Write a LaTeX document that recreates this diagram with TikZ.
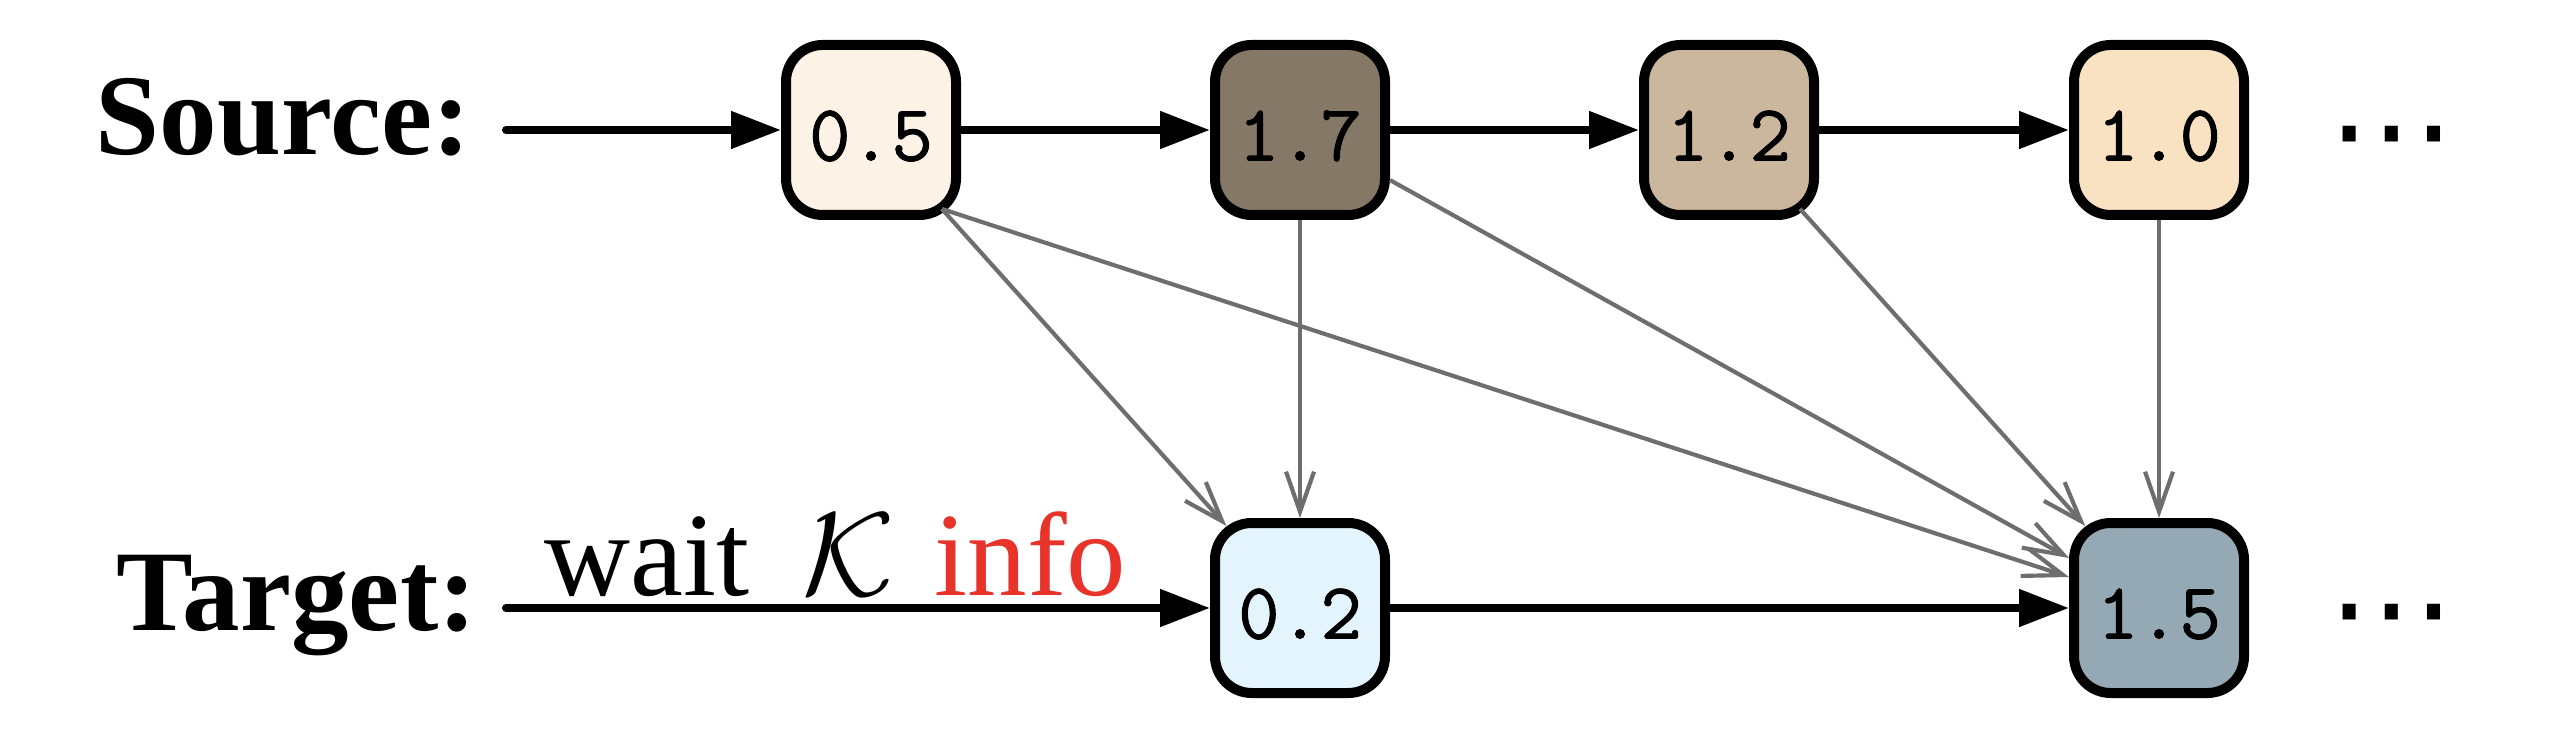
\RequirePackage{fix-cm}
\documentclass[tikz,border=0pt]{standalone}
\usepackage{fontspec}
\setmainfont{Liberation Serif}
\newfontfamily\dejavu{DejaVu Sans}
\newfontfamily\digitfont{Latin Modern Mono}[FakeBold=1.2]
\usetikzlibrary{arrows.meta,calc}
\definecolor{cA}{HTML}{FCF2E6}
\definecolor{cB}{HTML}{857866}
\definecolor{cC}{HTML}{CBB79D}
\definecolor{cD}{HTML}{F9E2C2}
\definecolor{cE}{HTML}{E3F4FC}
\definecolor{cF}{HTML}{95A9B4}
\definecolor{infored}{HTML}{E8332A}
\definecolor{depgray}{HTML}{6E6E6E}
\begin{document}
\begin{tikzpicture}[x=0.3pt,y=-0.3pt,
  valbox/.style={draw=black, line width=3pt, rounded corners=11pt,
    minimum width=51pt, minimum height=51pt, inner sep=0pt, outer sep=1.5pt,
    font=\fontsize{24}{28}\selectfont\digitfont, text height=18.3pt, text depth=0pt},
  flow/.style={line width=2.4pt, line cap=round, -{Triangle[length=15pt,width=10.8pt]}},
  dep/.style={draw=depgray, line width=1.25pt, -{Straight Barb[length=12pt,width=8.4pt]}},
  cornerdep/.style={dep, shorten <=-4.5pt, shorten >=-3.2pt},
  rowlabel/.style={font=\fontsize{34.5}{40}\selectfont\bfseries, inner sep=0pt, anchor=base west},
  dotsnode/.style={font=\fontsize{38}{44}\selectfont\dejavu, inner sep=0pt}]
\useasboundingbox (0,0) rectangle (2564,732);

% labels
\node[rowlabel] (srclab) at (95,155) {Source:};
\node[rowlabel] (tgtlab) at (116,630) {Target:};

% boxes
\node[valbox, fill=cA] (s1) at (871,130) {0.5};
\node[valbox, fill=cB] (s2) at (1300,130) {1.7};
\node[valbox, fill=cC] (s3) at (1729,130) {1.2};
\node[valbox, fill=cD] (s4) at (2159,130) {1.0};
\node[valbox, fill=cE] (t1) at (1300,608) {0.2};
\node[valbox, fill=cF] (t2) at (2159,608) {1.5};

% continuation dots
\node[dotsnode] (sdots) at (2392,150) {⋯};
\node[dotsnode] (tdots) at (2392,628) {⋯};

% start points of the rows
\coordinate (s0) at (506,130);
\coordinate (t0) at (506,608);

% wait label
\node[font=\fontsize{35.7}{42}\selectfont, inner sep=0pt, anchor=base west] (waitlab) at (544,595)
  {wait\hspace{7pt} $\mathcal{K}$\hspace{3pt} \textcolor{infored}{info}};

% dependency arrows
\draw[cornerdep] (s1) -- (t1);
\draw[dep] (s2) -- (t1);
\draw[dep] (s2) -- (t2);
\draw[cornerdep] (s3) -- (t2);
\draw[dep] (s4) -- (t2);
\draw[dep] ($(s1.center)+(71,79)$) -- ($(t2.west)+(0,-31)$);

% flow arrows
\draw[flow] (s0) -- (s1);
\draw[flow] (s1) -- (s2);
\draw[flow] (s2) -- (s3);
\draw[flow] (s3) -- (s4);
\draw[flow] (t0) -- (t1);
\draw[flow] (t1) -- (t2);
\end{tikzpicture}
\end{document}
